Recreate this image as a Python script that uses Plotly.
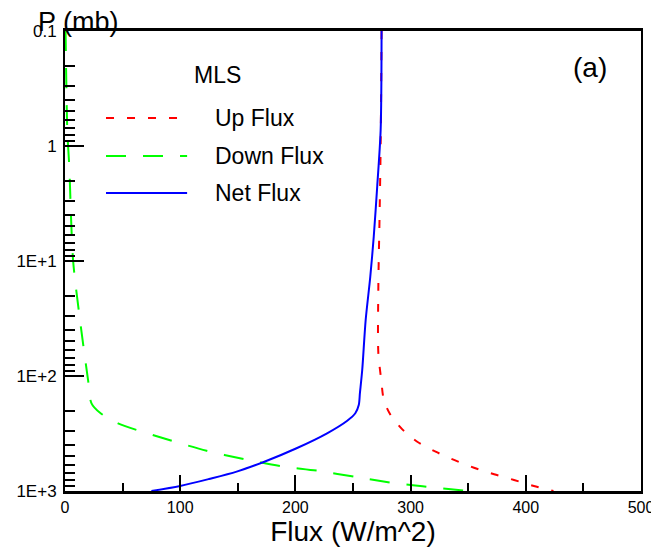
import plotly.graph_objects as go

# ---- data ----
up_p = [0.1, 1, 4.4, 16.7, 63, 108, 162, 218, 291, 373, 455, 537, 627, 716, 802, 905, 1000]
up_flux = [274.8, 274, 273, 272, 272, 274.5, 276.8, 282.6, 292.8, 305.8, 321.7, 337.7, 355, 372.5, 389.8, 407, 424]

down_p = [0.1, 0.73, 1.5, 9.8, 32.6, 108, 173, 209, 258, 341, 447, 527, 607, 666, 760, 853, 891, 929, 967, 1000]
down_flux = [0.5, 2, 3.7, 7, 13, 20, 23, 30.4, 46, 82.6, 123, 155, 187, 219, 254, 285.5, 302, 318.8, 335, 351]

net_p = [0.1, 0.727, 2.26, 6.15, 13.7, 32.6, 88.7, 141, 179, 211, 245, 315, 425, 562, 679, 787, 905, 1000]
net_flux = [274.8, 274, 271, 268, 265, 261, 258, 256, 255, 252, 245, 227.5, 201, 172, 149, 125, 100, 75]

y_tickvals = [0.1, 1, 10, 100, 1000]
y_ticktext = ["0.1", "1", "1E+1", "1E+2", "1E+3"]
y_minor = [m * d for d in [0.1, 1, 10, 100] for m in range(2, 10)]

series_names = ["Up Flux", "Down Flux", "Net Flux"]
series_colors = ["#FF0000", "#00FF00", "#0000FF"]
series_dash = ["8px,13px", "20px,17px", "solid"]

FONT = "Liberation Sans, Arial, sans-serif"

fig = go.Figure()
for (xs, ys), name, col, dash in zip(
    [(up_flux, up_p), (down_flux, down_p), (net_flux, net_p)],
    series_names, series_colors, series_dash,
):
    fig.add_trace(go.Scatter(x=xs, y=ys, mode="lines", name=name,
                             line=dict(color=col, width=2, dash=dash, shape="spline", smoothing=0.8),
                             showlegend=False))

# the page body adds an 8px margin, so the figure is 8px smaller than the window
fig.update_layout(
    width=651, height=543,
    margin=dict(l=57, r=18, t=23, b=60, autoexpand=False),
    paper_bgcolor="white", plot_bgcolor="white",
    font=dict(family=FONT, color="black"),
)
fig.update_xaxes(
    range=[0, 500], tickmode="linear", tick0=0, dtick=100,
    ticks="inside", ticklen=16, tickwidth=2, tickcolor="black",
    minor=dict(ticks="inside", ticklen=8, tickwidth=2, tickcolor="black", dtick=50, tick0=0),
    showline=True, linewidth=2.5, linecolor="black", mirror=True,
    showgrid=False, zeroline=False, automargin=False,
    tickfont=dict(size=16, family=FONT),
    title=dict(text="Flux (W/m^2)", font=dict(size=28, family=FONT), standoff=6),
)
fig.update_yaxes(
    type="log", range=[3, -1],
    tickmode="array", tickvals=y_tickvals, ticktext=y_ticktext,
    ticks="inside", ticklen=19, tickwidth=2, tickcolor="black",
    minor=dict(ticks="inside", ticklen=10, tickwidth=2, tickcolor="black",
               tickmode="array", tickvals=y_minor),
    showline=True, linewidth=2, linecolor="black", mirror=True,
    showgrid=False, zeroline=False, automargin=False,
    ticklabelstandoff=3,
    tickfont=dict(size=17, family=FONT),
)

# titles / labels
fig.add_annotation(text="P (mb)", xref="paper", yref="paper", x=-0.05, y=1.0, yshift=9,
                   xanchor="left", yanchor="middle", showarrow=False,
                   font=dict(size=27, family=FONT))
fig.add_annotation(text="(a)", xref="paper", yref="paper", x=0.911, y=0.92,
                   xanchor="center", yanchor="middle", showarrow=False,
                   font=dict(size=28, family=FONT))
fig.add_annotation(text="MLS", xref="paper", yref="paper", x=0.264, y=0.904,
                   xanchor="center", yanchor="middle", showarrow=False,
                   font=dict(size=23, family=FONT))

# manual legend
leg_y = [0.811, 0.728, 0.648]
for yy, name, col, dash in zip(leg_y, series_names, series_colors, series_dash):
    fig.add_shape(type="line", xref="paper", yref="paper", x0=0.0712, x1=0.212, y0=yy, y1=yy,
                  line=dict(color=col, width=2, dash=dash))
    fig.add_annotation(text=name, xref="paper", yref="paper", x=0.257, y=yy,
                       xanchor="left", yanchor="middle", showarrow=False,
                       font=dict(size=23, family=FONT))

fig.write_html("out.html")
